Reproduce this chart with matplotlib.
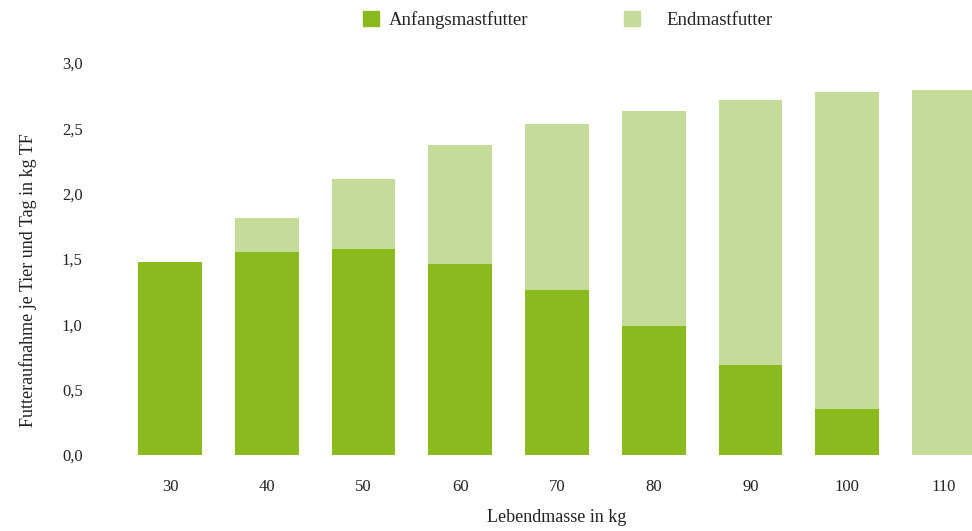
import matplotlib
matplotlib.use("Agg")
import matplotlib.pyplot as plt
from matplotlib.patches import Patch

# Data
categories = ["30", "40", "50", "60", "70", "80", "90", "100", "110"]
anfangsmast = [1.48, 1.55, 1.58, 1.46, 1.26, 0.99, 0.69, 0.35, 0.0]
endmast = [0.0, 0.26, 0.53, 0.91, 1.27, 1.64, 2.03, 2.43, 2.79]
y_ticks = [0.0, 0.5, 1.0, 1.5, 2.0, 2.5, 3.0]
y_tick_labels = ["0,0", "0,5", "1,0", "1,5", "2,0", "2,5", "3,0"]

dark_green = "#8BBA1F"
light_green = "#C5DB9A"
text_color = "#222222"

plt.rcParams['font.family'] = ['Liberation Serif', 'DejaVu Serif']

fig = plt.figure(figsize=(9.72, 5.31), dpi=100)
ax = fig.add_axes([0.1251, 0.1431, 0.8959, 0.7383])

x = range(len(categories))
ax.bar(x, anfangsmast, width=0.66, color=dark_green, linewidth=0)
ax.bar(x, endmast, width=0.66, bottom=anfangsmast, color=light_green, linewidth=0)

ax.set_xlim(-0.5, 8.5)
ax.set_ylim(0, 3.0)
ax.set_xticks(list(x))
ax.set_xticklabels(categories, fontsize=12, color=text_color)
ax.set_yticks(y_ticks)
ax.set_yticklabels(y_tick_labels, fontsize=12, color=text_color)
ax.tick_params(axis='both', length=0)
ax.tick_params(axis='x', pad=17)
ax.tick_params(axis='y', pad=28)

for s in ax.spines.values():
    s.set_visible(False)

ax.set_xlabel("Lebendmasse in kg", fontsize=13, color=text_color, labelpad=10)
fig.text(0.029, 0.473, "Futteraufnahme je Tier und Tag in kg TF", rotation=90,
         fontsize=13, color=text_color, ha='center', va='center')

leg1 = fig.legend(handles=[Patch(color=dark_green, label="Anfangsmastfutter")],
                  loc='center left', bbox_to_anchor=(0.3735, 0.962), frameon=False,
                  fontsize=13.5, handlelength=0.85, handleheight=0.85,
                  handletextpad=0.55, borderpad=0, borderaxespad=0,
                  labelcolor=text_color)
fig.legend(handles=[Patch(color=light_green, label="Endmastfutter")],
           loc='center left', bbox_to_anchor=(0.642, 0.962), frameon=False,
           fontsize=13.5, handlelength=0.85, handleheight=0.85,
           handletextpad=1.4, borderpad=0, borderaxespad=0,
           labelcolor=text_color)

plt.savefig("out.png", dpi=100)
